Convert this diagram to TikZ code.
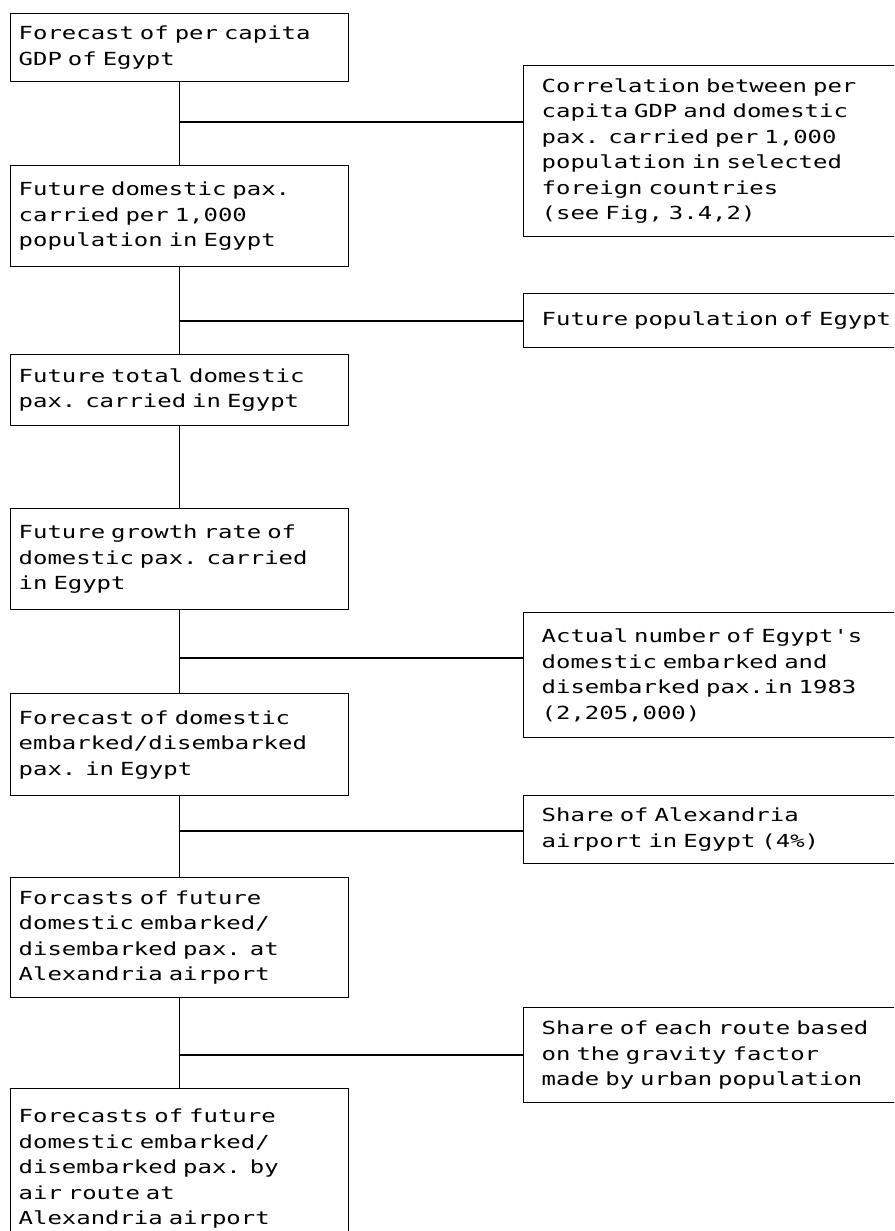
\documentclass[tikz,border=0pt]{standalone}
\usepackage{fontspec}
\usetikzlibrary{scopes}
\newfontfamily\boxmono{DejaVu Sans Mono}[FakeStretch=1.33]
\newcommand\boxfont{\boxmono\fontsize{18pt}{25.5pt}\selectfont}
\begin{document}
\begin{tikzpicture}[x=1pt,y=-1pt,line width=1.4pt,
    stagebox/.style={draw,anchor=north west,align=left,inner ysep=0pt,
      inner xsep=8pt,text width=322pt,font=\boxfont},
    inputbox/.style={draw,anchor=north west,align=left,inner ysep=0pt,
      inner xsep=18pt,text width=361pt,font=\boxfont}]
  \useasboundingbox (0,0) rectangle (894,1231);
  \clip (0,0) rectangle (894,1231);
  { [every node/.style={stagebox}]
    \node [minimum height=68pt] (gdp) at (10,13)
      {Forecast of per capita\\GDP of Egypt};
    \node [minimum height=101pt] (paxrate) at (10,165)
      {Future domestic pax.\\carried per 1,000\\population in Egypt};
    \node [minimum height=71pt] (paxtotal) at (10,354)
      {Future total domestic\\pax. carried in Egypt};
    \node [minimum height=101pt] (growth) at (10,508)
      {Future growth rate of\\domestic pax. carried\\in Egypt};
    \node [minimum height=102pt] (egyptfc) at (10,693)
      {Forecast of domestic\\embarked/disembarked\\pax. in Egypt};
    \node [minimum height=120pt] (alexfc) at (10,877)
      {Forcasts of future\\domestic embarked/\\disembarked pax. at\\Alexandria airport};
    \node [minimum height=160pt] (routefc) at (10,1088)
      {Forecasts of future\\domestic embarked/\\disembarked pax. by\\air route at\\Alexandria airport};
  }
  { [every node/.style={inputbox}]
    \node [minimum height=171pt] (correl) at (523,65)
      {Correlation between per\\capita GDP and domestic\\pax. carried per 1,000\\population in selected\\foreign countries\\(see Fig, 3.4,2)};
    \node [minimum height=54pt] (popul) at (523,293)
      {Future population of Egypt};
    \node [minimum height=125pt] (actual) at (523,612)
      {Actual number of Egypt's\\domestic embarked and\\disembarked pax.in 1983\\(2,205,000)};
    \node [minimum height=68pt] (share) at (523,795)
      {Share of Alexandria\\airport in Egypt (4\%)};
    \node [minimum height=95pt] (gravity) at (523,1007)
      {Share of each route based\\on the gravity factor\\made by urban population};
  }
  \coordinate (jcorrel) at (179,122);
  \coordinate (jpopul) at (179,321);
  \coordinate (jactual) at (179,658);
  \coordinate (jshare) at (179,831);
  \coordinate (jgravity) at (179,1055);
  \draw (gdp.south) -- (paxrate.north);
  \draw (paxrate.south) -- (paxtotal.north);
  \draw (paxtotal.south) -- (growth.north);
  \draw (growth.south) -- (egyptfc.north);
  \draw (egyptfc.south) -- (alexfc.north);
  \draw (alexfc.south) -- (routefc.north);
  \draw (jcorrel) -- (jcorrel -| correl.west);
  \draw (jpopul) -- (jpopul -| popul.west);
  \draw (jactual) -- (jactual -| actual.west);
  \draw (jshare) -- (jshare -| share.west);
  \draw (jgravity) -- (jgravity -| gravity.west);
\end{tikzpicture}
\end{document}
